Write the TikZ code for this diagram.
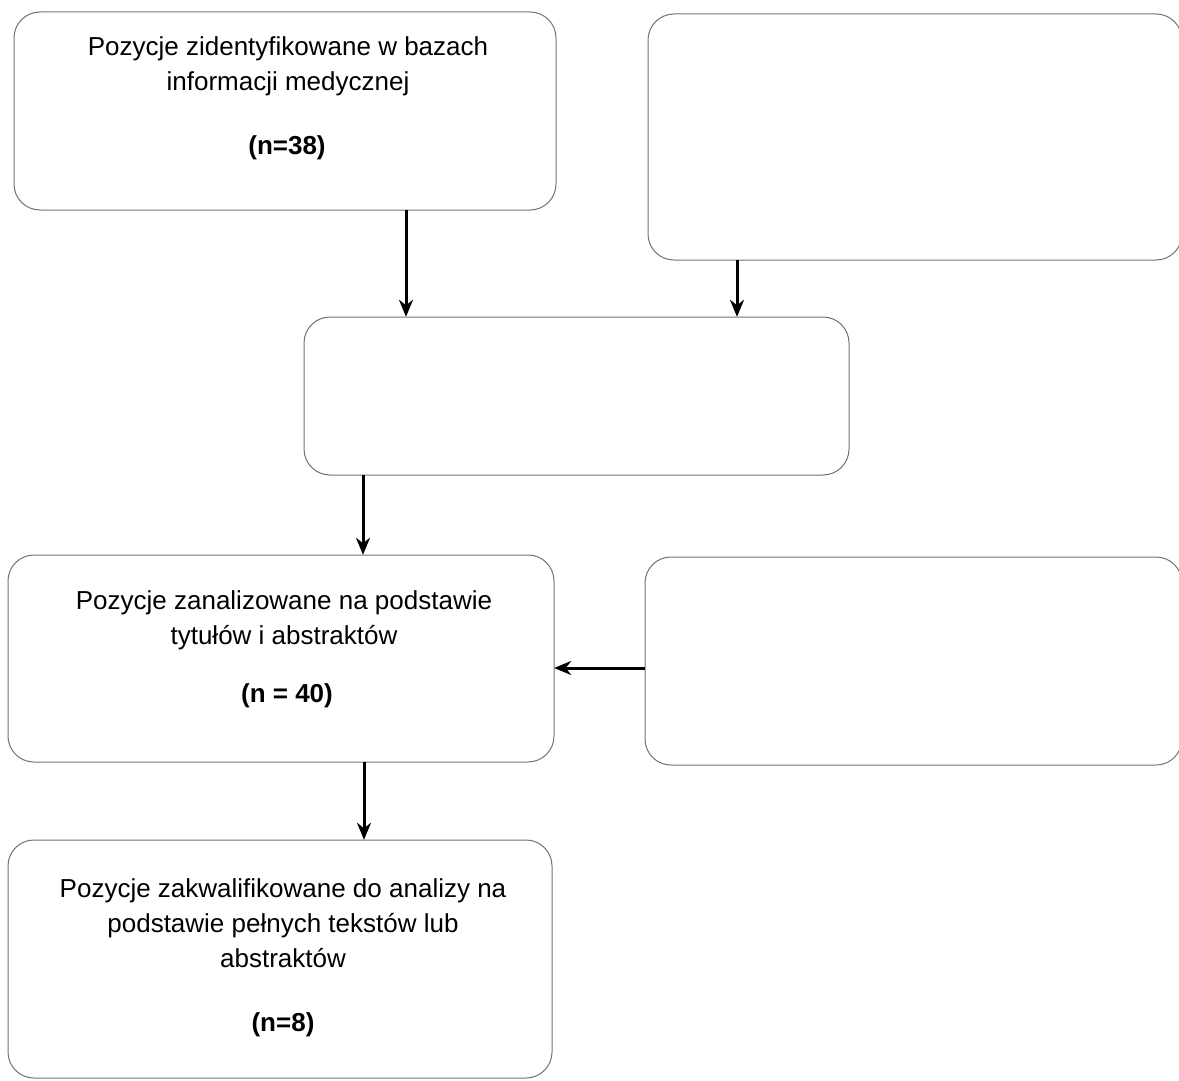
\documentclass[tikz,border=0pt]{standalone}
\usepackage{fontspec}
\setmainfont{Liberation Sans}
\usetikzlibrary{arrows.meta}
\begin{document}
\begin{tikzpicture}[x=1pt,y=-1pt,
  flowbox/.style={draw=black!55, line width=1pt, rounded corners=26pt},
  boxtext/.style={align=center, inner sep=0pt, font=\fontsize{26}{35}\selectfont},
  countlbl/.style={inner sep=0pt, font=\fontsize{26}{35}\selectfont\bfseries},
  flowarrow/.style={draw=black, line width=3pt, -{Stealth[length=17pt,width=14pt]}}
]
\useasboundingbox (0,0) rectangle (1179,1081);

% rounded boxes (outline) and a named node for each
\draw[flowbox] (14,12) rectangle (556,210);
\node[inner sep=0pt, minimum width=542pt, minimum height=198pt] (b1) at (285,111) {};
\draw[flowbox] (648,14) rectangle (1182,260);
\node[inner sep=0pt, minimum width=534pt, minimum height=246pt] (b2) at (915,137) {};
\draw[flowbox] (304,317) rectangle (849,475);
\node[inner sep=0pt, minimum width=545pt, minimum height=158pt] (b3) at (576.5,396) {};
\draw[flowbox] (8,555) rectangle (554,762);
\node[inner sep=0pt, minimum width=546pt, minimum height=207pt] (b4) at (281,658.5) {};
\draw[flowbox] (645,557) rectangle (1182,765);
\node[inner sep=0pt, minimum width=537pt, minimum height=208pt] (b5) at (913.5,661) {};
\draw[flowbox] (8,840) rectangle (552,1078);
\node[inner sep=0pt, minimum width=544pt, minimum height=238pt] (b6) at (280,959) {};

% box texts
\node[boxtext] (t1) at (288,66) {Pozycje zidentyfikowane w bazach\\informacji medycznej};
\node[countlbl] (n1) at (287,148) {(n=38)};
\node[boxtext] (t4) at (284,620) {Pozycje zanalizowane na podstawie\\tytułów i abstraktów};
\node[countlbl] (n4) at (287,696) {(n = 40)};
\node[boxtext] (t6) at (283,923) {Pozycje zakwalifikowane do analizy na\\podstawie pełnych tekstów lub\\abstraktów};
\node[countlbl] (n6) at (283,1025) {(n=8)};

% connectors
\draw[flowarrow] (b1.south -| 406,0) -- (b3.north -| 406,0);
\draw[flowarrow] (b2.south -| 737,0) -- (b3.north -| 737,0);
\draw[flowarrow] (b3.south -| 363,0) -- (b4.north -| 363,0);
\draw[flowarrow] (b4.south -| 364,0) -- (b6.north -| 364,0);
\draw[flowarrow] (b5.west |- 0,668) -- (b4.east |- 0,668);
\end{tikzpicture}
\end{document}
